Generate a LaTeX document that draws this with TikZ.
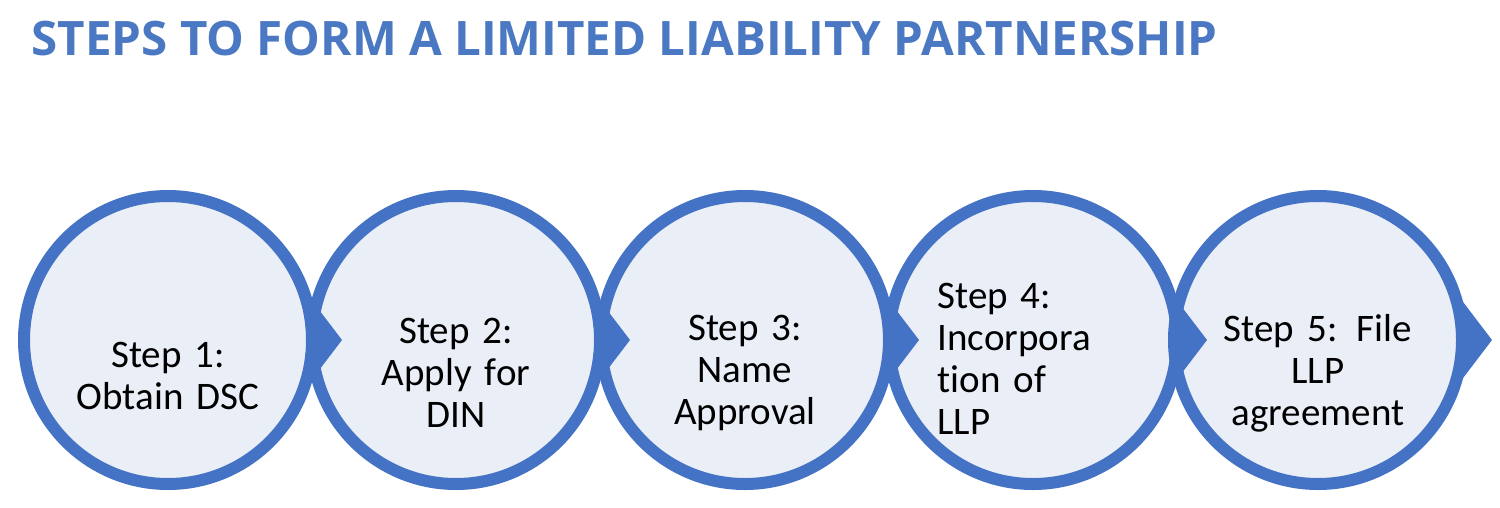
\documentclass[tikz,border=0pt]{standalone}
\usepackage{fontspec}
\setmainfont{Carlito}[Ligatures=NoCommon]
\newfontfamily\titlefont{Open Sans}[BoldFont={* Bold}]
\definecolor{ringblue}{HTML}{4472C4}
\definecolor{fillblue}{HTML}{E9EEF7}
\definecolor{titleblue}{HTML}{4A78C2}
\begin{document}
\begin{tikzpicture}[x=1pt,y=-1pt,
  stepcircle/.style={circle,draw=ringblue,line width=12pt,fill=fillblue,minimum size=288pt,inner sep=0pt},
  steptext/.style={align=center,text width=200pt,font=\fontsize{39}{42}\selectfont,text=black},
  pointer/.style={fill=ringblue,draw=none}]
\useasboundingbox (0,0) rectangle (1500,507);
\node[anchor=base west,text=titleblue,font=\titlefont\bfseries\fontsize{47.5}{52}\selectfont] (title) at (28,55) {STEPS TO FORM A LIMITED LIABILITY PARTNERSHIP};
\foreach \i/\x in {1/168,2/456,3/745,4/1033,5/1318}{
  \node[stepcircle] (c\i) at (\x,340) {};
}
\foreach \i/\x in {1/168,2/456,3/745,4/1033,5/1318}{
  \coordinate (tip\i) at (\x+174,340);
  \begin{scope}
    \clip (c\i.60) -- (tip\i) -- (c\i.-60) -- cycle;
    \fill[pointer,even odd rule] (c\i) circle[radius=144pt] ([shift={(-200,-200)}]c\i) rectangle ([shift={(200,200)}]c\i);
  \end{scope}
}
\node[steptext] (t1) at ([yshift=-36]c1) {Step 1:\\Obtain DSC};
\node[steptext] (t2) at ([yshift=-33]c2) {Step 2:\\Apply for\\DIN};
\node[steptext] (t3) at ([yshift=-33]c3) {Step 3:\\Name\\Approval};
\node[steptext,align=left,anchor=west] (t4) at ([xshift=-99,yshift=-19]c4) {Step 4:\\Incorpora\\tion of\\LLP};
\node[steptext] (t5) at ([yshift=-33]c5) {Step 5: File\\LLP\\agreement};
\end{tikzpicture}
\end{document}
